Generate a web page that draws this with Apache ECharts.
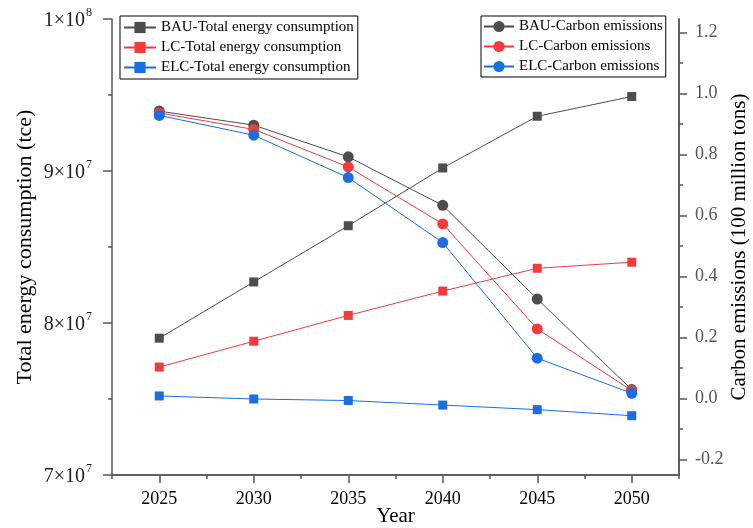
<!DOCTYPE html>
<html>
<head>
<meta charset="utf-8">
<script src="https://cdn.jsdelivr.net/npm/echarts@6/dist/echarts.min.js"></script>
<style>
    html, body {margin: 0; padding: 0; background: #fff;}
    #container {width: 753px; height: 528px;}
</style>
</head>
<body>
<div id="container"></div>
<script>
// 年份
var years = [2025, 2030, 2035, 2040, 2045, 2050];
// 能源消费总量 (tce)
var bauEnergy = [7.90e7, 8.27e7, 8.64e7, 9.02e7, 9.36e7, 9.49e7];
var lcEnergy = [7.71e7, 7.88e7, 8.05e7, 8.21e7, 8.36e7, 8.40e7];
var elcEnergy = [7.52e7, 7.50e7, 7.49e7, 7.46e7, 7.43e7, 7.39e7];
// 碳排放 (亿吨)
var bauCarbon = [0.943, 0.897, 0.793, 0.634, 0.327, 0.030];
var lcCarbon = [0.937, 0.883, 0.760, 0.573, 0.229, 0.027];
var elcCarbon = [0.929, 0.864, 0.725, 0.512, 0.133, 0.018];
// 刻度
var yearMinorTicks = [2022.5, 2027.5, 2032.5, 2037.5, 2042.5, 2047.5, 2052.5];
var carbonTicks = [-0.2, 0, 0.2, 0.4, 0.6, 0.8, 1.0, 1.2];
var carbonMinorTicks = [-0.1, 0.1, 0.3, 0.5, 0.7, 0.9, 1.1];

var FONT = "'Liberation Serif', 'Times New Roman', serif";
var AXIS_COLOR = '#555';

function pairs(xs, ys) {
    var arr = [];
    for (var i = 0; i < xs.length; i++) {
        arr.push([xs[i], ys[i]]);
    }
    return arr;
}

function lineSeries(name, data, yIndex, symbol, size, color) {
    return {
        name: name,
        type: 'line',
        xAxisIndex: 0,
        yAxisIndex: yIndex,
        data: pairs(years, data),
        symbol: symbol,
        symbolSize: size,
        showAllSymbol: true,
        lineStyle: {width: 1, color: color},
        itemStyle: {color: color},
        emphasis: {disabled: true}
    };
}

var myChart = echarts.init(document.getElementById('container'));
var option = {
    animation: false,
    backgroundColor: '#fff',
    textStyle: {fontFamily: FONT},
    grid: {left: 112, right: 74, top: 19, bottom: 53, containLabel: false, outerBoundsMode: 'none'},
    legend: [
        {
            orient: 'vertical',
            left: 120,
            top: 16,
            padding: [4, 4, 4, 3],
            itemGap: 5,
            itemWidth: 32,
            itemHeight: 14,
            borderColor: '#000',
            borderWidth: 1,
            textStyle: {fontFamily: FONT, fontSize: 15, color: '#000'},
            data: ['BAU-Total energy consumption', 'LC-Total energy consumption', 'ELC-Total energy consumption']
        },
        {
            orient: 'vertical',
            left: 481,
            top: 16,
            padding: [3, 3, 3, 2],
            itemGap: 5,
            itemWidth: 30,
            itemHeight: 14,
            borderColor: '#000',
            borderWidth: 1,
            textStyle: {fontFamily: FONT, fontSize: 15, color: '#000'},
            data: ['BAU-Carbon emissions', 'LC-Carbon emissions', 'ELC-Carbon emissions']
        }
    ],
    xAxis: [
        {
            type: 'value',
            min: 2022.5,
            max: 2052.5,
            interval: 2.5,
            position: 'bottom',
            name: 'Year',
            nameLocation: 'middle',
            nameGap: 31,
            nameMoveOverlap: false,
            nameTextStyle: {fontFamily: FONT, fontSize: 21, color: '#000'},
            axisLine: {onZero: false, lineStyle: {color: AXIS_COLOR, width: 1.5}},
            axisTick: {customValues: years, length: 8, lineStyle: {color: AXIS_COLOR, width: 1.5}},
            axisLabel: {
                customValues: years,
                margin: 15,
                formatter: function (v) {
                    return '{t|' + v + '}';
                },
                rich: {
                    t: {fontFamily: FONT, fontSize: 18, color: '#000'}
                }
            },
            splitLine: {show: false}
        },
        {
            // 次刻度
            type: 'value',
            min: 2022.5,
            max: 2052.5,
            position: 'bottom',
            axisLine: {show: true, onZero: false, lineStyle: {color: AXIS_COLOR, width: 1.5}},
            axisTick: {show: true, customValues: yearMinorTicks, length: 4, lineStyle: {color: AXIS_COLOR, width: 1.5}},
            axisLabel: {show: false},
            splitLine: {show: false}
        }
    ],
    yAxis: [
        {
            type: 'value',
            min: 7e7,
            max: 1e8,
            interval: 1e7,
            position: 'left',
            name: 'Total energy consumption (tce)',
            nameLocation: 'middle',
            nameGap: 76,
            nameRotate: 90,
            nameMoveOverlap: false,
            nameTextStyle: {fontFamily: FONT, fontSize: 22, color: '#000'},
            axisLine: {show: true, onZero: false, lineStyle: {color: AXIS_COLOR, width: 1.5}},
            axisTick: {show: true, length: 9, lineStyle: {color: AXIS_COLOR, width: 1.5}},
            minorTick: {show: true, splitNumber: 2, length: 4, lineStyle: {color: AXIS_COLOR, width: 1.5}},
            axisLabel: {
                margin: 20,
                formatter: function (v) {
                    var exp = v >= 1e8 ? 8 : 7;
                    var m = Math.round(v / Math.pow(10, exp));
                    return '{b|' + m + '×10}{s|' + exp + '}';
                },
                rich: {
                    b: {fontFamily: FONT, fontSize: 20, color: '#222', lineHeight: 24, verticalAlign: 'bottom'},
                    s: {fontFamily: FONT, fontSize: 12, color: '#222', lineHeight: 24, verticalAlign: 'top', padding: [0, 0, 0, 1]}
                }
            },
            splitLine: {show: false}
        },
        {
            type: 'value',
            min: -0.25,
            max: 1.245,
            position: 'right',
            name: 'Carbon emissions (100 million tons)',
            nameLocation: 'middle',
            nameGap: 50,
            nameRotate: 90,
            nameMoveOverlap: false,
            nameTextStyle: {fontFamily: FONT, fontSize: 21, color: '#000'},
            axisLine: {show: true, onZero: false, lineStyle: {color: AXIS_COLOR, width: 1.5}},
            axisTick: {show: true, customValues: carbonTicks, length: 8, lineStyle: {color: AXIS_COLOR, width: 1.5}},
            axisLabel: {
                customValues: carbonTicks,
                margin: 16,
                formatter: function (v) {
                    return '{t|' + v.toFixed(1) + '}';
                },
                rich: {
                    t: {fontFamily: FONT, fontSize: 18, color: '#555'}
                }
            },
            splitLine: {show: false}
        },
        {
            // 右轴次刻度
            type: 'value',
            min: -0.25,
            max: 1.245,
            position: 'right',
            axisLine: {show: true, onZero: false, lineStyle: {color: AXIS_COLOR, width: 1.5}},
            axisTick: {show: true, customValues: carbonMinorTicks, length: 4, lineStyle: {color: AXIS_COLOR, width: 1.5}},
            axisLabel: {show: false},
            splitLine: {show: false}
        }
    ],
    series: [
        lineSeries('BAU-Total energy consumption', bauEnergy, 0, 'rect', 9, '#4d4d4d'),
        lineSeries('LC-Total energy consumption', lcEnergy, 0, 'rect', 9, '#f03c3c'),
        lineSeries('ELC-Total energy consumption', elcEnergy, 0, 'rect', 9, '#1a6ee0'),
        lineSeries('BAU-Carbon emissions', bauCarbon, 1, 'circle', 11, '#4d4d4d'),
        lineSeries('LC-Carbon emissions', lcCarbon, 1, 'circle', 11, '#f03c3c'),
        lineSeries('ELC-Carbon emissions', elcCarbon, 1, 'circle', 11, '#1a6ee0')
    ]
};
myChart.setOption(option);
</script>
</body>
</html>
